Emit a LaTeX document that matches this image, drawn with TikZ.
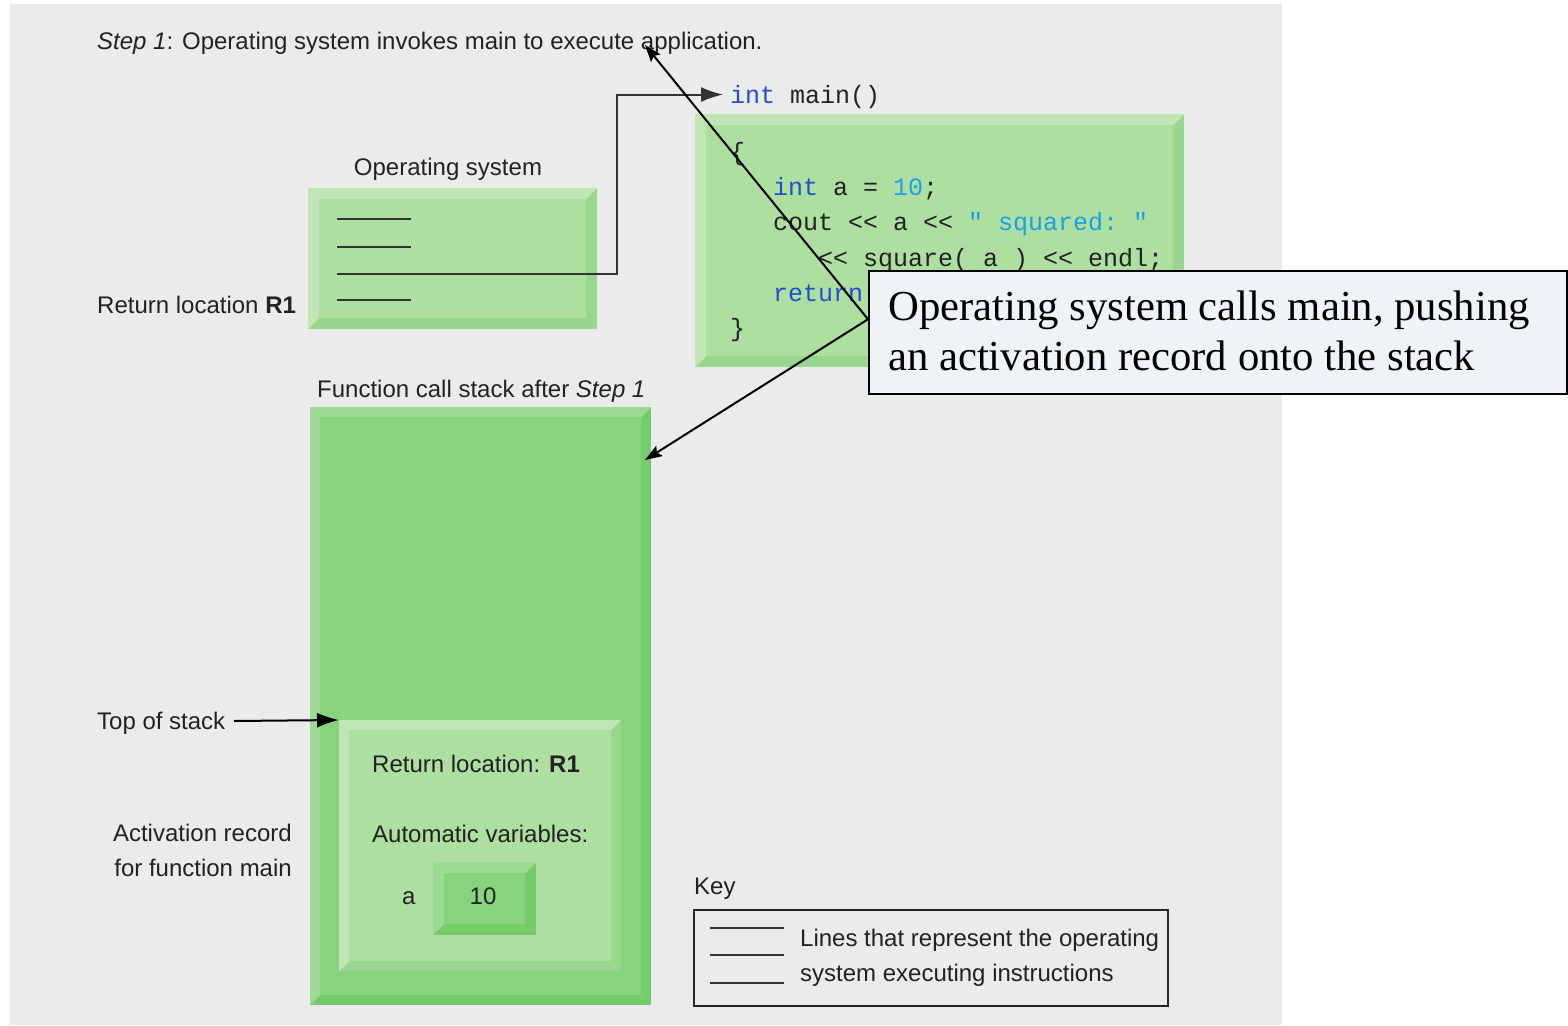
\documentclass[tikz,border=0pt]{standalone}
\usepackage{fontspec}
\setmainfont{Liberation Serif}
\setsansfont{Liberation Sans}
\setmonofont{Liberation Mono}
\usetikzlibrary{arrows.meta}
\definecolor{bg}{HTML}{EAEBEA}
\definecolor{lgLight}{HTML}{C2E5B6}
\definecolor{lgMid}{HTML}{ADDFA0}
\definecolor{lgDark}{HTML}{9AD78E}
\definecolor{mgLight}{HTML}{9DDA93}
\definecolor{mgMid}{HTML}{88D47E}
\definecolor{mgDark}{HTML}{76CC6A}
\definecolor{kwblue}{HTML}{2050D0}
\definecolor{litblue}{HTML}{1EA0E6}
\definecolor{txt}{HTML}{222222}
\definecolor{calloutfill}{HTML}{EEF3F6}
\newcommand\sansfnt{\sffamily\fontsize{24}{29}\selectfont}
\newcommand\codefnt{\ttfamily\fontsize{25}{30}\selectfont}
\newcommand\bigserif{\rmfamily\fontsize{42.7}{51}\selectfont}
\newcommand\kw[1]{\textcolor{kwblue}{#1}}
\newcommand\lit[1]{\textcolor{litblue}{#1}}
% bevel: node name, width, light colour, mid colour
\newcommand\bevel[4]{%
  \fill[#3] (#1.south west) -- (#1.north west) -- (#1.north east)
    -- ([shift={(-#2,#2)}]#1.north east) -- ([shift={(#2,#2)}]#1.north west)
    -- ([shift={(#2,-#2)}]#1.south west) -- cycle;
  \fill[#4] ([shift={(#2,#2)}]#1.north west) rectangle ([shift={(-#2,-#2)}]#1.south east);
}
\begin{document}
\begin{tikzpicture}[x=1pt,y=-1pt,
  lbl/.style={font=\sansfnt, inner sep=0pt, anchor=base west, text=txt},
  code/.style={font=\codefnt, inner sep=0pt, anchor=base west, text=txt},
  boxnode/.style={inner sep=0pt, anchor=north west, draw=none},
  osline/.style={line width=2pt, draw=black!80},
  conn/.style={line width=2pt, draw=black},
  tip/.style={-{Latex[length=22pt,width=15pt]}},
  ctip/.style={-{Stealth[length=17pt,width=12pt,inset=3pt]}}
]
\useasboundingbox (0,0) rectangle (1568,1025);
\fill[bg] (10,4) rectangle (1282,1025);

% title
\node[lbl] (title) at (97,50) {\textit{Step 1}: Operating system invokes main to execute application.};

% operating system box
\node[lbl, anchor=base] (oslbl) at (448,175) {Operating system};
\node[boxnode, fill=lgDark, minimum width=289pt, minimum height=141pt] (os) at (308,188) {};
\bevel{os}{11}{lgLight}{lgMid}
\draw[osline] (337,219) -- (411,219);
\draw[osline] (337,247) -- (411,247);
\draw[osline] (337,300) -- (411,300);
\node[lbl] (rl) at (97,313) {Return location \textbf{R1}};

% code box
\node[boxnode, fill=lgDark, minimum width=489pt, minimum height=253pt] (codebox) at (695,114) {};
\bevel{codebox}{11}{lgLight}{lgMid}
\node[code] (main) at (730,103) {\kw{int} main()};
\node[code] (c1) at (730,160) {\{};
\node[code] (c2) at (773,195) {\kw{int} a = \lit{10};};
\node[code] (c3) at (773,230) {cout << a << \lit{" squared: "}};
\node[code] (c4) at (818,266) {<< square( a ) << endl;};
\node[code] (c5) at (773,301) {\kw{return}};
\node[code] (c6) at (730,336) {\}};

% OS call connector
\coordinate (osstart) at (337,274);
\draw[osline, tip] (osstart) -- (617,274) |- ([shift={(-7pt,2pt)}]main.west);

% stack
\node[lbl] (stlbl) at (317,397) {Function call stack after \textit{Step 1}};
\node[boxnode, fill=mgDark, minimum width=341pt, minimum height=598pt] (stack) at (310,407) {};
\bevel{stack}{10}{mgLight}{mgMid}

% activation record
\node[boxnode, fill=lgDark, minimum width=282pt, minimum height=251pt] (rec) at (339,720) {};
\bevel{rec}{10}{lgLight}{lgMid}
\node[lbl] (rl2) at (372,772) {Return location: \textbf{R1}};
\node[lbl] (av) at (372,842) {Automatic variables:};
\node[lbl] (va) at (402,904) {a};
\node[boxnode, fill=mgDark, minimum width=103pt, minimum height=73pt] (vbox) at (433,862) {};
\bevel{vbox}{11}{mgLight}{mgMid}
\node[lbl, anchor=base] (v10) at (483,904) {10};

% left labels
\node[lbl] (tos) at (97,729) {Top of stack};
\draw[conn, tip] (234,721) -- (rec.north west);
\node[lbl, anchor=base east, align=right] (ar1) at (292,841) {Activation record};
\node[lbl, anchor=base east, align=right] (ar2) at (292,876) {for function main};

% key
\node[lbl] (keylbl) at (694,894) {Key};
\node[boxnode, draw=black!85, line width=1.5pt, minimum width=474pt, minimum height=96pt] (key) at (693,909) {};
\draw[osline] (710,928) -- (784,928);
\draw[osline] (710,955) -- (784,955);
\draw[osline] (710,983) -- (784,983);
\node[lbl] (k1) at (800,946) {Lines that represent the operating};
\node[lbl] (k2) at (800,981) {system executing instructions};

% callout
\node[boxnode, draw=black, fill=calloutfill, line width=1.5pt, minimum width=698pt, minimum height=123pt] (callout) at (868,270) {};
\node[inner sep=0pt, anchor=base west, font=\bigserif] (ct1) at (888,320) {Operating system calls main, pushing};
\node[inner sep=0pt, anchor=base west, font=\bigserif] (ct2) at (888,370) {an activation record onto the stack};
\coordinate (tgt1) at (645,45);
\coordinate (tgt2) at (645,460);
\draw[conn, ctip] ([yshift=13pt]callout.west) -- (tgt1);
\draw[conn, ctip] ([yshift=13pt]callout.west) -- (tgt2);
\end{tikzpicture}
\end{document}
